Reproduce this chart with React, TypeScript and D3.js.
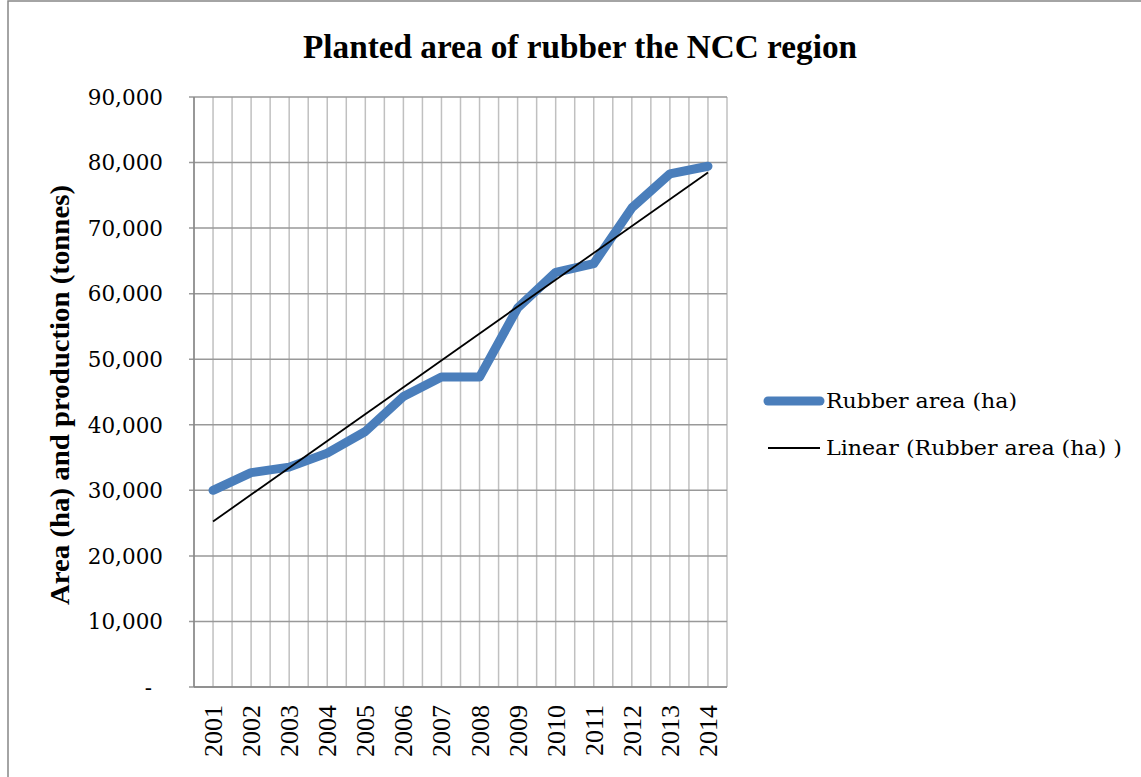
import React from "react";
import * as d3 from "d3";

const years: string[] = ["2001","2002","2003","2004","2005","2006","2007","2008","2009","2010","2011","2012","2013","2014"];
const rubberArea: number[] = [30000, 32700, 33540, 35680, 38980, 44320, 47280, 47280, 57800, 63250, 64580, 73080, 78270, 79440];
const yTicks: number[] = [0, 10000, 20000, 30000, 40000, 50000, 60000, 70000, 80000, 90000];
const title = "Planted area of rubber the NCC region";
const yTitle = "Area (ha) and production (tonnes)";
const legendLabels: string[] = ["Rubber area (ha)", "Linear (Rubber area (ha) )"];

const W = 1141, H = 777;
const plot = { left: 194, right: 727, top: 97, bottom: 687 };

export default function App() {
  const x = d3.scaleBand<string>().domain(years).range([plot.left, plot.right]).paddingInner(0).paddingOuter(0);
  const bw = x.bandwidth();
  const cx = (yr: string) => (x(yr) as number) + bw / 2;
  const y = d3.scaleLinear().domain([0, 90000]).range([plot.bottom, plot.top]);

  // linear regression trendline
  const n = rubberArea.length;
  const xs = rubberArea.map((_, i) => i + 1);
  const mx = d3.mean(xs) as number;
  const my = d3.mean(rubberArea) as number;
  let sxy = 0, sxx = 0;
  xs.forEach((xi, i) => { sxy += (xi - mx) * (rubberArea[i] - my); sxx += (xi - mx) * (xi - mx); });
  const slope = sxy / sxx;
  const icpt = my - slope * mx;
  const trend = [[years[0], icpt + slope * 1], [years[n - 1], icpt + slope * n]] as [string, number][];

  const line = d3.line<[string, number]>().x(d => cx(d[0])).y(d => y(d[1]));
  const seriesPts = years.map((yr, i) => [yr, rubberArea[i]] as [string, number]);

  const vLines: number[] = [];
  years.forEach(yr => { vLines.push(x(yr) as number); vLines.push(cx(yr)); });
  vLines.push(plot.right);

  const fmt = d3.format(",");

  return (
    <svg width={W} height={H} style={{ position: "absolute", left: 0, top: 0, background: "#fff" }}>
      <rect x={8} y={1} width={W + 10} height={H + 10} fill="#fff" stroke="#878787" strokeWidth={1.5} />
      <text x={580} y={58} textAnchor="middle" fontFamily="Liberation Serif" fontWeight="bold" fontSize={33}
        textLength={554} lengthAdjust="spacingAndGlyphs" fill="#000">{title}</text>

      {/* vertical gridlines */}
      {vLines.map((v, i) => (
        <line key={"v" + i} x1={v} x2={v} y1={plot.top} y2={plot.bottom} stroke="#c0c0c0" strokeWidth={1.5} />
      ))}
      {/* horizontal gridlines */}
      {yTicks.map(t => (
        <line key={"h" + t} x1={plot.left - 5} x2={plot.right} y1={y(t)} y2={y(t)} stroke="#999" strokeWidth={1.5} />
      ))}
      {/* axes */}
      <line x1={plot.left} x2={plot.left} y1={plot.top} y2={plot.bottom} stroke="#868686" strokeWidth={1.5} />
      <line x1={plot.left} x2={plot.right} y1={plot.bottom} y2={plot.bottom} stroke="#868686" strokeWidth={1.5} />

      {/* y tick labels */}
      {yTicks.map(t => (
        <text key={"yt" + t} x={t === 0 ? 152 : 163} y={y(t)} dy="0.36em" textAnchor="end"
          fontFamily="DejaVu Serif" fontSize={21.5} fill="#000">{t === 0 ? "-" : fmt(t)}</text>
      ))}
      {/* x tick labels */}
      {years.map(yr => (
        <text key={"xt" + yr} transform={`translate(${cx(yr) + 9},705) rotate(-90)`} textAnchor="end"
          fontFamily="Liberation Serif" fontSize={26} fill="#000">{yr}</text>
      ))}
      {/* y axis title */}
      <text transform={`translate(69,${395}) rotate(-90)`} textAnchor="middle" fontFamily="Liberation Serif"
        fontWeight="bold" fontSize={27} textLength={420} lengthAdjust="spacingAndGlyphs" fill="#000">{yTitle}</text>

      {/* series */}
      <path d={line(seriesPts) as string} fill="none" stroke="#4a7ebb" strokeWidth={9} strokeLinejoin="round" strokeLinecap="round" />
      <path d={line(trend) as string} fill="none" stroke="#000" strokeWidth={1.8} />

      {/* legend */}
      <line x1={768} x2={820} y1={401} y2={401} stroke="#4a7ebb" strokeWidth={9} strokeLinecap="round" />
      <text x={826} y={401} dy="0.35em" fontFamily="DejaVu Serif" fontSize={21} textLength={191} lengthAdjust="spacingAndGlyphs" fill="#000">{legendLabels[0]}</text>
      <line x1={768} x2={820} y1={448} y2={448} stroke="#000" strokeWidth={1.8} />
      <text x={826} y={448} dy="0.35em" fontFamily="DejaVu Serif" fontSize={21} textLength={296} lengthAdjust="spacingAndGlyphs" fill="#000">{legendLabels[1]}</text>
    </svg>
  );
}
